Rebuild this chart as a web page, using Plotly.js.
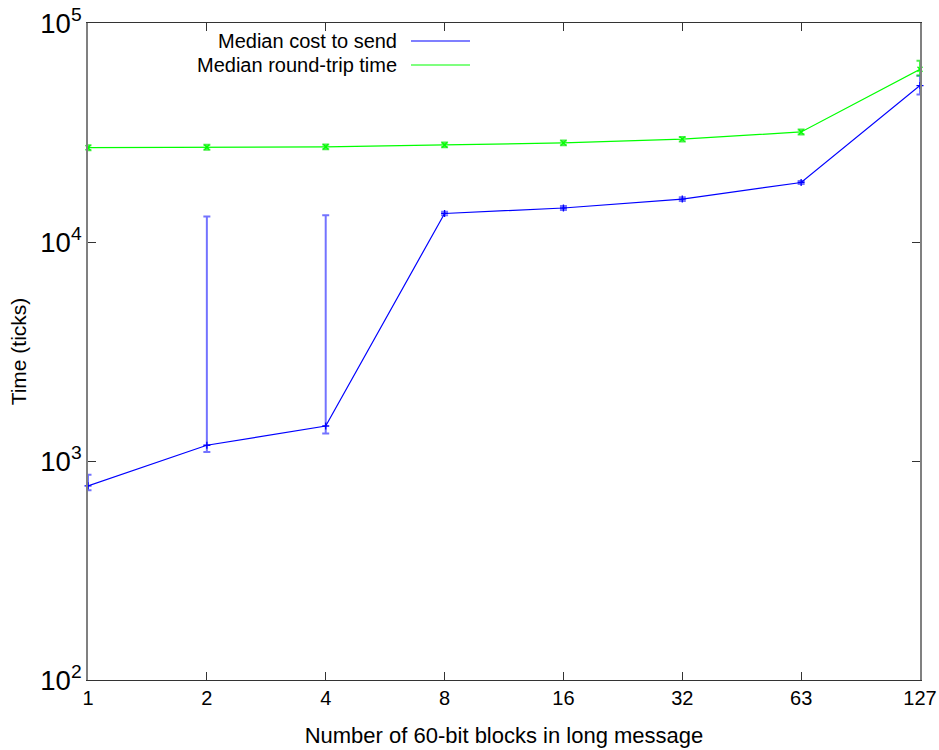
<!DOCTYPE html>
<html>
<head>
<meta charset="utf-8">
<script src="https://cdn.plot.ly/plotly-3.0.1.min.js"></script>
<style>
html,body{margin:0;padding:0;background:#fff;}
#chart{width:939px;height:750px;}
</style>
</head>
<body>
<div id="chart"></div>
<script>
const blockLabels = ['1','2','4','8','16','32','63','127'];

const sendMedian    = [770, 1180, 1445, 13500, 14300, 15700, 18700, 51800];
const sendErrPlus   = [95, 11900, 11800, 250, 300, 300, 300, 5600];
const sendErrMinus  = [35, 80, 110, 250, 300, 300, 300, 4600];

const rttMedian     = [26950, 27100, 27200, 27750, 28350, 29500, 31800, 61500];
const rttErrPlus    = [700, 700, 700, 700, 700, 700, 800, 5800];
const rttErrMinus   = [700, 700, 700, 700, 700, 700, 800, 3900];

const seriesNames = ['Median cost to send', 'Median round-trip time'];
const seriesColors = ['#0000ff', '#00ff00'];
const errColors = ['rgba(0,0,255,0.55)', 'rgba(0,230,0,0.7)'];

const FONT = '"Liberation Sans", Arial, Helvetica, sans-serif';

// equally spaced positions for the block-count categories
const xPos = blockLabels.map((_, i) => i);

const traces = [
  {
    x: xPos, y: sendMedian, type: 'scatter', mode: 'lines+markers',
    name: seriesNames[0], cliponaxis: false, showlegend: false,
    line: {color: seriesColors[0], width: 1.2},
    marker: {symbol: 'cross-thin-open', size: 5, color: seriesColors[0], line: {color: seriesColors[0], width: 1.3}},
    error_y: {type: 'data', symmetric: false, array: sendErrPlus, arrayminus: sendErrMinus,
              color: errColors[0], thickness: 2, width: 3.5}
  },
  {
    x: xPos, y: rttMedian, type: 'scatter', mode: 'lines+markers',
    name: seriesNames[1], cliponaxis: false, showlegend: false,
    line: {color: seriesColors[1], width: 1.2},
    marker: {symbol: 'x-thin-open', size: 5, color: seriesColors[1], line: {color: seriesColors[1], width: 1.3}},
    error_y: {type: 'data', symmetric: false, array: rttErrPlus, arrayminus: rttErrMinus,
              color: errColors[1], thickness: 2, width: 3.5}
  }
];

const plotL = 88, plotR = 920, plotT = 23, plotB = 680;
const pw = plotR - plotL, ph = plotB - plotT;
const px = v => (v - plotL) / pw;
const py = v => (plotB - v) / ph;

const legendRows = [41, 65];
const annotations = seriesNames.map((n, i) => ({
  text: n, xref: 'paper', yref: 'paper', x: px(398), y: py(legendRows[i]),
  xanchor: 'right', yanchor: 'middle', showarrow: false, borderpad: 0,
  font: {family: FONT, size: 20, color: '#000'}
}));
const shapes = seriesNames.map((n, i) => ({
  type: 'line', xref: 'paper', yref: 'paper',
  x0: px(411), x1: px(470), y0: py(legendRows[i]), y1: py(legendRows[i]),
  line: {color: seriesColors[i], width: 1.2}
}));

const layout = {
  width: 939, height: 750,
  margin: {l: plotL, r: 939 - plotR, t: plotT, b: 750 - plotB},
  paper_bgcolor: '#fff', plot_bgcolor: '#fff',
  font: {family: FONT, size: 20, color: '#000'},
  showlegend: false,
  xaxis: {
    type: 'linear', range: [0, blockLabels.length - 1],
    tickmode: 'array', tickvals: xPos, ticktext: blockLabels,
    showgrid: false, zeroline: false,
    showline: true, linecolor: '#333', linewidth: 1, mirror: 'allticks',
    ticks: 'inside', ticklen: 8, tickcolor: '#333', tickwidth: 1,
    tickfont: {family: FONT, size: 20},
    title: {text: 'Number of 60-bit blocks in long message', font: {family: FONT, size: 22}, standoff: 19}
  },
  yaxis: {
    type: 'log', range: [2, 5], dtick: 1, exponentformat: 'power',
    showgrid: false, zeroline: false,
    showline: true, linecolor: '#808080', linewidth: 2, mirror: 'allticks',
    ticks: 'inside', ticklen: 8, tickcolor: '#333', tickwidth: 1,
    tickfont: {family: FONT, size: 22},
    title: {text: 'Time (ticks)', font: {family: FONT, size: 21}, standoff: 8}
  },
  annotations: annotations,
  shapes: shapes
};

Plotly.newPlot('chart', traces, layout, {displayModeBar: false, staticPlot: true});
</script>
</body>
</html>
